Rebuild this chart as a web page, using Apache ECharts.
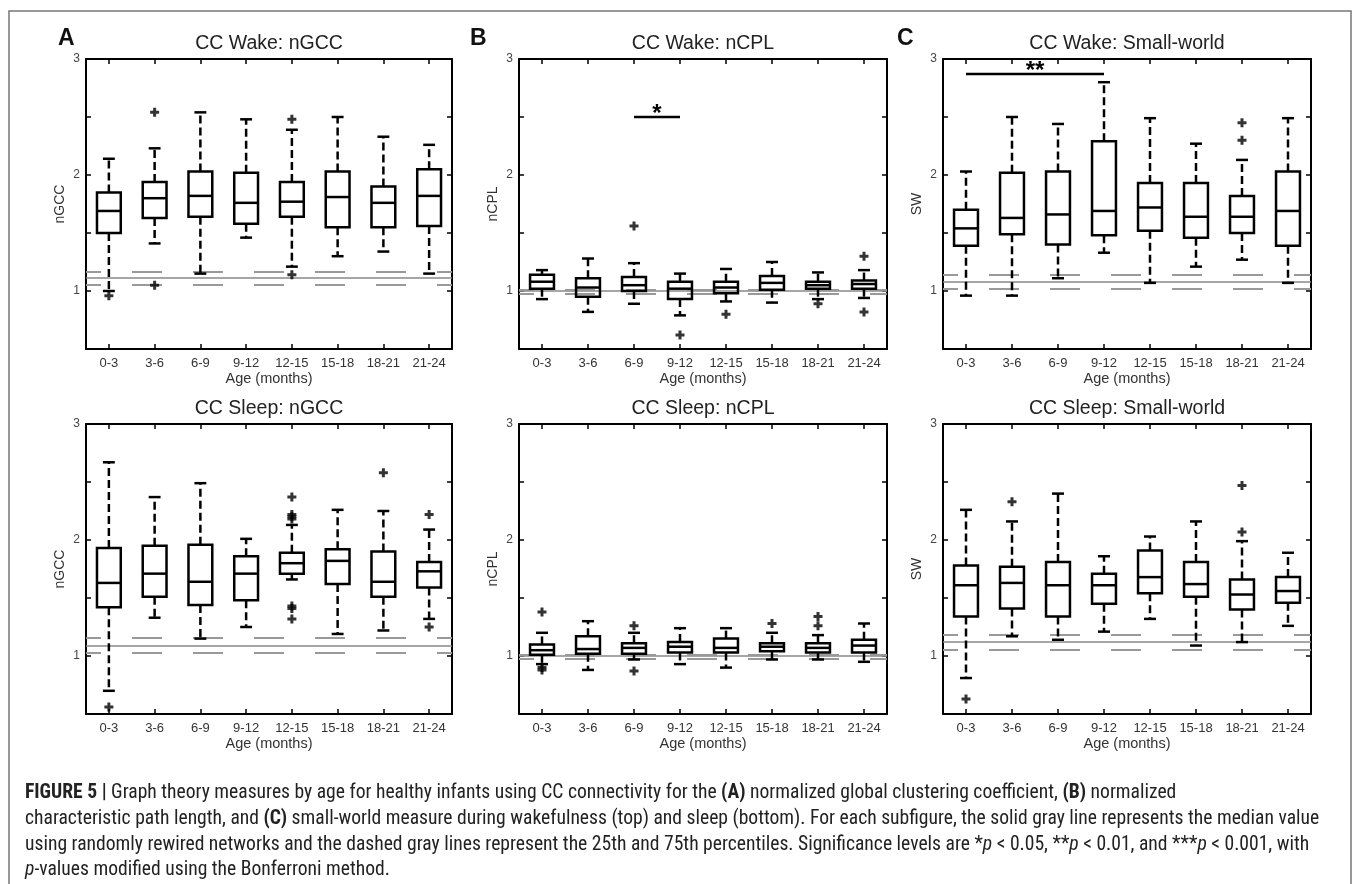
<!DOCTYPE html>
<html>
<head>
<meta charset="utf-8">
<script src="https://cdn.jsdelivr.net/npm/echarts@6/dist/echarts.min.js"></script>
<style>
  html, body { margin: 0; background: #fff; }
  #chart { width: 1355px; height: 884px; }
</style>
</head>
<body>
<div id="chart"></div>
<script>
// age groups on every x axis
var ageGroups = ["0-3", "3-6", "6-9", "9-12", "12-15", "15-18", "18-21", "21-24"];

// box stats per age group: [lower whisker, Q1, median, Q3, upper whisker]
var wakeGccBoxes = [
  [1.00, 1.50, 1.69, 1.85, 2.14], [1.41, 1.63, 1.80, 1.94, 2.23],
  [1.15, 1.64, 1.82, 2.03, 2.54], [1.46, 1.58, 1.76, 2.02, 2.48],
  [1.21, 1.64, 1.77, 1.94, 2.39], [1.30, 1.55, 1.81, 2.03, 2.50],
  [1.34, 1.55, 1.76, 1.90, 2.33], [1.15, 1.56, 1.82, 2.05, 2.26]
];
var wakeGccOutliers = [[0, 0.96], [1, 2.54], [1, 1.05], [4, 2.48], [4, 1.14]];
var wakeGccRef = [1.05, 1.11, 1.17]; // 25th, median, 75th of rewired networks

var wakeCplBoxes = [
  [0.93, 1.02, 1.08, 1.14, 1.18], [0.82, 0.95, 1.03, 1.11, 1.28],
  [0.89, 1.00, 1.05, 1.12, 1.24], [0.79, 0.93, 1.02, 1.08, 1.15],
  [0.91, 0.98, 1.03, 1.08, 1.19], [0.90, 1.01, 1.07, 1.13, 1.25],
  [0.93, 1.02, 1.05, 1.08, 1.16], [0.94, 1.02, 1.06, 1.09, 1.18]
];
var wakeCplOutliers = [[2, 1.56], [3, 0.62], [4, 0.80], [6, 0.89], [7, 1.30], [7, 0.82]];
var wakeCplRef = [0.985, 1.0, 1.015];
var wakeCplSig = [2, 3, 2.5, "*"]; // from group, to group, height, stars

var wakeSwBoxes = [
  [0.96, 1.39, 1.54, 1.70, 2.03], [0.96, 1.49, 1.63, 2.02, 2.50],
  [1.11, 1.40, 1.66, 2.03, 2.44], [1.33, 1.48, 1.69, 2.29, 2.80],
  [1.07, 1.52, 1.72, 1.93, 2.49], [1.21, 1.46, 1.64, 1.93, 2.27],
  [1.27, 1.50, 1.64, 1.82, 2.13], [1.07, 1.39, 1.69, 2.03, 2.49]
];
var wakeSwOutliers = [[6, 2.45], [6, 2.30]];
var wakeSwRef = [1.02, 1.08, 1.14];
var wakeSwSig = [0, 3, 2.87, "**"];

var sleepGccBoxes = [
  [0.70, 1.42, 1.63, 1.93, 2.67], [1.33, 1.51, 1.71, 1.95, 2.37],
  [1.15, 1.44, 1.64, 1.96, 2.49], [1.25, 1.48, 1.71, 1.86, 2.01],
  [1.66, 1.71, 1.80, 1.89, 2.13], [1.19, 1.62, 1.82, 1.92, 2.26],
  [1.22, 1.51, 1.64, 1.90, 2.25], [1.32, 1.59, 1.73, 1.81, 2.09]
];
var sleepGccOutliers = [[0, 0.56], [4, 2.37], [4, 2.22], [4, 2.20], [4, 2.18],
  [4, 1.43], [4, 1.41], [4, 1.32], [6, 2.58], [7, 2.22], [7, 1.25]];
var sleepGccRef = [1.03, 1.095, 1.16];

var sleepCplBoxes = [
  [0.93, 1.01, 1.05, 1.10, 1.20], [0.88, 1.02, 1.06, 1.17, 1.30],
  [0.97, 1.02, 1.07, 1.11, 1.20], [0.93, 1.03, 1.08, 1.12, 1.24],
  [0.90, 1.03, 1.07, 1.15, 1.24], [0.97, 1.04, 1.08, 1.11, 1.20],
  [0.97, 1.03, 1.07, 1.11, 1.18], [0.95, 1.03, 1.09, 1.14, 1.28]
];
var sleepCplOutliers = [[0, 1.38], [0, 0.90], [0, 0.88], [2, 1.26], [2, 0.87],
  [5, 1.28], [6, 1.34], [6, 1.26]];
var sleepCplRef = [0.985, 1.0, 1.015];

var sleepSwBoxes = [
  [0.81, 1.34, 1.61, 1.78, 2.26], [1.17, 1.41, 1.63, 1.77, 2.16],
  [1.14, 1.34, 1.61, 1.81, 2.40], [1.21, 1.45, 1.61, 1.71, 1.86],
  [1.32, 1.54, 1.68, 1.91, 2.03], [1.09, 1.51, 1.62, 1.81, 2.16],
  [1.12, 1.40, 1.53, 1.66, 1.99], [1.26, 1.46, 1.56, 1.68, 1.89]
];
var sleepSwOutliers = [[0, 0.63], [1, 2.33], [6, 2.47], [6, 2.07]];
var sleepSwRef = [1.05, 1.12, 1.18];

var panels = [
  { title: "CC Wake: nGCC", yName: "nGCC", boxes: wakeGccBoxes, outliers: wakeGccOutliers, ref: wakeGccRef },
  { title: "CC Wake: nCPL", yName: "nCPL", boxes: wakeCplBoxes, outliers: wakeCplOutliers, ref: wakeCplRef, sig: wakeCplSig },
  { title: "CC Wake: Small-world", yName: "SW", boxes: wakeSwBoxes, outliers: wakeSwOutliers, ref: wakeSwRef, sig: wakeSwSig },
  { title: "CC Sleep: nGCC", yName: "nGCC", boxes: sleepGccBoxes, outliers: sleepGccOutliers, ref: sleepGccRef },
  { title: "CC Sleep: nCPL", yName: "nCPL", boxes: sleepCplBoxes, outliers: sleepCplOutliers, ref: sleepCplRef },
  { title: "CC Sleep: Small-world", yName: "SW", boxes: sleepSwBoxes, outliers: sleepSwOutliers, ref: sleepSwRef }
];

var lefts = [86, 519, 943];
var widths = [366, 368, 368];
var tops = [59, 424];
var plotH = 290;
var font = "Liberation Sans, Arial, sans-serif";

var chart = echarts.init(document.getElementById("chart"));

var plus = "path://M3,0H6V3H9V6H6V9H3V6H0V3H3Z";

function renderBox(params, api) {
  var i = api.value(0);
  var x = api.coord([i, 0])[0];
  var lo = api.coord([i, api.value(1)])[1];
  var q1 = api.coord([i, api.value(2)])[1];
  var md = api.coord([i, api.value(3)])[1];
  var q3 = api.coord([i, api.value(4)])[1];
  var hi = api.coord([i, api.value(5)])[1];
  var bw = api.size([1, 0])[0] * 0.52;
  var cw = bw * 0.5;
  var solid = { stroke: "#000", lineWidth: 2.5 };
  var dash = { stroke: "#000", lineWidth: 2.5, lineDash: [8, 4] };
  return {
    type: "group",
    children: [
      { type: "line", shape: { x1: x, y1: q3, x2: x, y2: hi }, style: dash },
      { type: "line", shape: { x1: x, y1: q1, x2: x, y2: lo }, style: dash },
      { type: "line", shape: { x1: x - cw / 2, y1: hi, x2: x + cw / 2, y2: hi }, style: solid },
      { type: "line", shape: { x1: x - cw / 2, y1: lo, x2: x + cw / 2, y2: lo }, style: solid },
      { type: "rect", shape: { x: x - bw / 2, y: q3, width: bw, height: q1 - q3 }, style: { fill: "none", stroke: "#000", lineWidth: 2.5 } },
      { type: "line", shape: { x1: x - bw / 2, y1: md, x2: x + bw / 2, y2: md }, style: solid }
    ]
  };
}

function renderSig(params, api) {
  var a = api.coord([api.value(0), api.value(2)]);
  var b = api.coord([api.value(1), api.value(2)]);
  return {
    type: "group",
    children: [
      { type: "line", shape: { x1: a[0], y1: a[1], x2: b[0], y2: b[1] }, style: { stroke: "#000", lineWidth: 2.5 } },
      { type: "text", x: (a[0] + b[0]) / 2, y: a[1] + 9, style: { text: params.context.stars, fill: "#000", font: "bold 24px " + font, textAlign: "center", textVerticalAlign: "bottom" } }
    ]
  };
}

var option = {
  animation: false,
  backgroundColor: "#fff",
  grid: [], xAxis: [], yAxis: [], series: [], graphic: []
};

panels.forEach(function (p, k) {
  var col = k % 3, row = Math.floor(k / 3);
  option.grid.push({ left: lefts[col], top: tops[row], width: widths[col], height: plotH, containLabel: false });
  var tick = { show: true, inside: true, length: 5, alignWithLabel: true, lineStyle: { color: "#000", width: 1.5 } };
  var line = { show: true, onZero: false, lineStyle: { color: "#000", width: 2 } };
  option.xAxis.push({
    type: "category", gridIndex: k, data: ageGroups, position: "bottom",
    axisLine: line, axisTick: tick,
    axisLabel: { color: "#333", fontSize: 13, fontFamily: font, margin: 8 },
    name: "Age (months)", nameLocation: "middle", nameGap: 22,
    nameTextStyle: { color: "#333", fontSize: 14.5, fontFamily: font },
    splitLine: { show: false }
  });
  option.xAxis.push({
    type: "category", gridIndex: k, data: ageGroups, position: "top",
    axisLine: line, axisTick: tick, axisLabel: { show: false }, splitLine: { show: false }
  });
  var yBase = { type: "value", gridIndex: k, min: 0.5, max: 3, interval: 0.5, splitLine: { show: false },
    axisLine: line, axisTick: { show: true, inside: true, length: 5, lineStyle: { color: "#000", width: 1.5 } } };
  option.yAxis.push(Object.assign({}, yBase, {
    position: "left",
    axisLabel: { color: "#444", fontSize: 12, fontFamily: font, margin: 6,
      formatter: function (v) { return v % 1 === 0 ? String(v) : ""; } },
    name: p.yName, nameLocation: "middle", nameGap: 19,
    nameTextStyle: { color: "#333", fontSize: 14, fontFamily: font }
  }));
  option.yAxis.push(Object.assign({}, yBase, { position: "right", axisLabel: { show: false } }));

  var refLines = [
    { yAxis: p.ref[0], lineStyle: { color: "#999", width: 2, type: [30, 31], dashOffset: 15 } },
    { yAxis: p.ref[1], lineStyle: { color: "#888", width: 1.5, type: "solid" } },
    { yAxis: p.ref[2], lineStyle: { color: "#999", width: 2, type: [30, 31], dashOffset: 15 } }
  ];
  option.series.push({
    type: "scatter", xAxisIndex: 2 * k, yAxisIndex: 2 * k, z: 3,
    symbol: plus, symbolSize: 9, itemStyle: { color: "#000" },
    data: p.outliers, silent: true,
    markLine: { silent: true, symbol: "none", label: { show: false }, z: 1, data: refLines }
  });
  option.series.push({
    type: "custom", xAxisIndex: 2 * k, yAxisIndex: 2 * k, z: 4, silent: true,
    renderItem: renderBox,
    encode: { x: 0, y: [1, 2, 3, 4, 5] },
    data: p.boxes.map(function (b, i) { return [i].concat(b); })
  });
  if (p.sig) {
    option.series.push({
      type: "custom", xAxisIndex: 2 * k, yAxisIndex: 2 * k, z: 4, silent: true,
      renderItem: function (params, api) { params.context.stars = p.sig[3]; return renderSig(params, api); },
      encode: { x: [0, 1], y: 2 },
      data: [p.sig.slice(0, 3)]
    });
  }
  option.graphic.push({
    type: "text", x: lefts[col] + widths[col] / 2, y: tops[row] - 15,
    style: { text: p.title, font: "19.5px " + font, fill: "#222", textAlign: "center", textVerticalAlign: "middle" }
  });
});

// panel letters
[["A", 58], ["B", 470], ["C", 897]].forEach(function (l) {
  option.graphic.push({ type: "text", x: l[1], y: 39,
    style: { text: l[0], font: "bold 23px " + font, fill: "#111", textVerticalAlign: "middle" } });
});

// outer frame
option.graphic.push({ type: "rect", shape: { x: 9, y: 11, width: 1342, height: 900 },
  style: { fill: "none", stroke: "#777", lineWidth: 1.5 }, silent: true });

// caption
var capFont = "Liberation Sans Narrow, Roboto Condensed, Roboto, sans-serif";
var capSize = 19.6;
var rich = {
  b: { fontWeight: "bold", fontSize: capSize, fontFamily: capFont, fill: "#222" },
  i: { fontStyle: "italic", fontSize: capSize, fontFamily: capFont, fill: "#222" },
  n: { fontSize: capSize, fontFamily: capFont, fill: "#222" }
};
var captionLines = [
  "{b|FIGURE 5 |}{n| Graph theory measures by age for healthy infants using CC connectivity for the }{b|(A)}{n| normalized global clustering coefficient, }{b|(B)}{n| normalized}",
  "{n|characteristic path length, and }{b|(C)}{n| small-world measure during wakefulness (top) and sleep (bottom). For each subfigure, the solid gray line represents the median value}",
  "{n|using randomly rewired networks and the dashed gray lines represent the 25th and 75th percentiles. Significance levels are *}{i|p}{n| < 0.05, **}{i|p}{n| < 0.01, and ***}{i|p}{n| < 0.001, with}",
  "{i|p}{n|-values modified using the Bonferroni method.}"
];
[793, 819, 845, 870].forEach(function (y, j) {
  option.graphic.push({ type: "text", x: 25, y: y,
    style: { text: captionLines[j], rich: rich, font: capSize + "px " + capFont, fill: "#222", textVerticalAlign: "middle" } });
});

chart.setOption(option);
</script>
</body>
</html>
